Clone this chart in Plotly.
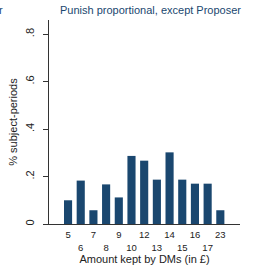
import plotly.graph_objects as go

categories = ["5", "6", "7", "8", "9", "10", "12", "13", "14", "15", "16", "17", "23"]
shares = [0.10, 0.183, 0.058, 0.167, 0.112, 0.287, 0.267, 0.187, 0.302, 0.187, 0.17, 0.17, 0.058]
y_ticks = [0, 0.2, 0.4, 0.6, 0.8]
y_tick_labels = ["0", ".2", ".4", ".6", ".8"]

x_pos = list(range(len(categories)))
x_labels = [c if i % 2 == 0 else "<br>" + c for i, c in enumerate(categories)]

navy = "#1a476f"
font = "Liberation Sans, Arial, sans-serif"

fig = go.Figure(go.Bar(x=x_pos, y=shares, marker_color=navy, marker_line_width=0, width=0.64))

fig.update_layout(
    width=259, height=267,
    margin=dict(l=49, r=19, t=20, b=43),
    paper_bgcolor="white", plot_bgcolor="white",
    font=dict(family=font, size=10, color="#222"),
    showlegend=False,
    annotations=[
        dict(text="Punish proportional, except Proposer", x=(150 - 49) / 191, y=1 + 10 / 204,
             xref="paper", yref="paper", xanchor="center", yanchor="middle",
             showarrow=False, font=dict(size=11, color=navy, family=font)),
        dict(text="r", x=(1 - 49) / 191, y=1 + 10 / 204, xref="paper", yref="paper",
             xanchor="center", yanchor="middle", showarrow=False,
             font=dict(size=11, color=navy, family=font)),
    ],
)

fig.update_xaxes(
    range=[-1.5, 13.55], tickvals=x_pos, ticktext=x_labels, tickangle=0, showgrid=False,
    showline=True, linecolor="#333", linewidth=1, ticks="", zeroline=False, automargin=False,
    ticklabelstandoff=2,
    tickfont=dict(size=9.5), title=dict(text="Amount kept by DMs (in £)", font=dict(size=11), standoff=2),
)
fig.update_yaxes(
    range=[0, 0.86], tickvals=y_ticks, ticktext=y_tick_labels, tickangle=-90, showgrid=False,
    showline=True, linecolor="#333", linewidth=1, ticks="outside", ticklen=5, tickcolor="#333",
    ticklabelstandoff=5, automargin=False,
    zeroline=False, tickfont=dict(size=11),
    title=dict(text="% subject-periods", font=dict(size=11), standoff=3),
)

fig.write_html(
    "out.html",
    config={"displayModeBar": False},
    post_script="document.body.style.margin='0';document.body.style.overflow='hidden';",
)
